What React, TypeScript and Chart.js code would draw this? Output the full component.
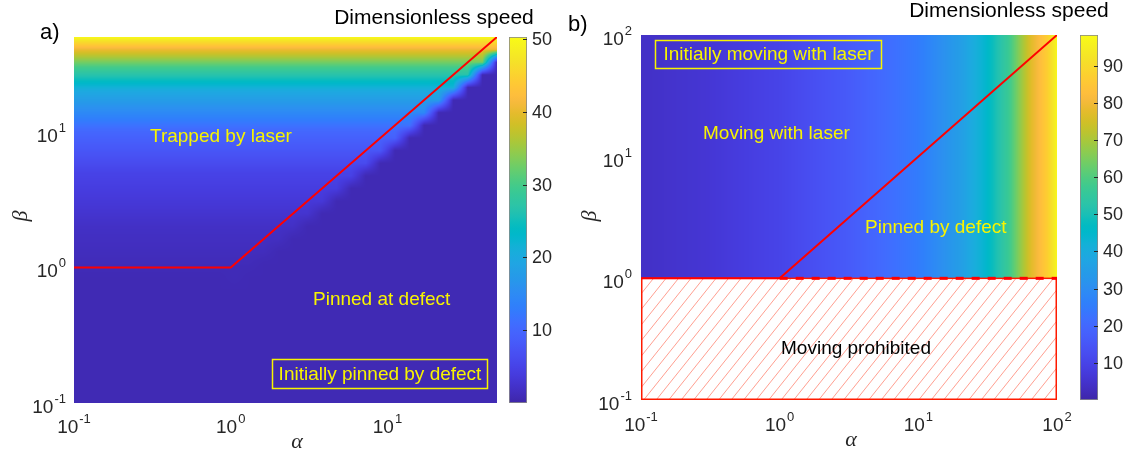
import React, { useEffect, useRef } from 'react';
import { Chart, registerables } from 'chart.js';
Chart.register(...registerables);

// ---------------- data: panel a ----------------
const alphaRangeA = [0.1, 50];
const betaRangeA = [0.1, 50];
const betaProfileA = [0.1, 1, 2, 5, 10, 20, 30, 40, 50];
const speedProfileA = [0.8, 1, 2, 5, 10, 20, 30, 40, 50];
const pinnedSpeedA = [0.8];
const gridNodesA = 30;
const trappedMarginA = [1.25];
const boundaryAlphaA = [0.1, 1, 50];
const boundaryBetaA = [1, 1, 50];
const axisTicksA = [0.1, 1, 10];
const axisTickExpA = ['-1', '0', '1'];
const colorbarTicksA = [10, 20, 30, 40, 50];
const colorbarRangeA = [0, 50.3];

// ---------------- data: panel b ----------------
const alphaRangeB = [0.1, 100];
const betaRangeB = [0.1, 100];
const alphaProfileB = [0.1, 0.3, 1, 3, 10, 20, 30, 45, 65, 85, 100];
const speedProfileB = [4, 6, 10, 16, 25, 35, 44, 57, 77, 87, 97];
const boundaryAlphaB = [0.1, 1, 100];
const boundaryBetaB = [1, 1, 100];
const dashedAlphaB = [1, 100];
const dashedBetaB = [1, 1];
const prohibitedAlphaB = [0.1, 100];
const prohibitedBetaB = [0.1, 1];
const axisTicksB = [0.1, 1, 10, 100];
const axisTickExpB = ['-1', '0', '1', '2'];
const colorbarTicksB = [10, 20, 30, 40, 50, 60, 70, 80, 90];
const colorbarRangeB = [0, 98.3];

// ---------------- colormap (parula) ----------------
const PARULA: number[][] = [
  [0.2422, 0.1504, 0.6603], [0.2504, 0.165, 0.7076], [0.2578, 0.1818, 0.7511], [0.2647, 0.1978, 0.7952],
  [0.2706, 0.2147, 0.8364], [0.2751, 0.2342, 0.871], [0.2783, 0.2559, 0.8991], [0.2803, 0.2782, 0.9221],
  [0.2813, 0.3006, 0.9414], [0.281, 0.3228, 0.9579], [0.2795, 0.3447, 0.9717], [0.276, 0.3667, 0.9829],
  [0.2699, 0.3892, 0.9906], [0.2602, 0.4123, 0.9952], [0.244, 0.4358, 0.9988], [0.2206, 0.4603, 0.9973],
  [0.1963, 0.4847, 0.9892], [0.1834, 0.5074, 0.9798], [0.1786, 0.5289, 0.9682], [0.1764, 0.5499, 0.952],
  [0.1687, 0.5703, 0.9359], [0.154, 0.5902, 0.9218], [0.146, 0.6091, 0.9079], [0.138, 0.6276, 0.8973],
  [0.1248, 0.6459, 0.8883], [0.1113, 0.6635, 0.8763], [0.0952, 0.6798, 0.8598], [0.0689, 0.6948, 0.8394],
  [0.0297, 0.7082, 0.8163], [0.0036, 0.7199, 0.7917], [0.0067, 0.73, 0.766], [0.0433, 0.7394, 0.7394],
  [0.0964, 0.75, 0.712], [0.1408, 0.7584, 0.6842], [0.1717, 0.767, 0.6554], [0.1938, 0.7758, 0.6251],
  [0.2161, 0.7843, 0.5923], [0.247, 0.7918, 0.5567], [0.2906, 0.7973, 0.5188], [0.3406, 0.8008, 0.4789],
  [0.3909, 0.8029, 0.4354], [0.4456, 0.8024, 0.3909], [0.5044, 0.7993, 0.348], [0.5616, 0.7942, 0.3045],
  [0.6174, 0.7876, 0.2612], [0.672, 0.7793, 0.2227], [0.7242, 0.7698, 0.191], [0.7738, 0.7598, 0.1646],
  [0.8203, 0.7498, 0.1535], [0.8634, 0.7406, 0.1596], [0.9035, 0.733, 0.1774], [0.9393, 0.7288, 0.21],
  [0.9728, 0.7298, 0.2394], [0.9956, 0.7434, 0.2371], [0.997, 0.7659, 0.2199], [0.9952, 0.7893, 0.2028],
  [0.9892, 0.8136, 0.1885], [0.9786, 0.8386, 0.1766], [0.9676, 0.8639, 0.1643], [0.961, 0.889, 0.1537],
  [0.9597, 0.9135, 0.1423], [0.9628, 0.9373, 0.1265], [0.9691, 0.9606, 0.1064], [0.9769, 0.9839, 0.0805],
];

function parula(t: number): number[] {
  const tt = Math.min(1, Math.max(0, t));
  const f = tt * (PARULA.length - 1);
  const i = Math.min(PARULA.length - 2, Math.floor(f));
  const u = f - i;
  const a = PARULA[i], b = PARULA[i + 1];
  return [0, 1, 2].map((k) => Math.round(255 * (a[k] + (b[k] - a[k]) * u)));
}

function interpLog(xs: number[], ys: number[], v: number): number {
  const lv = Math.log10(v);
  if (lv <= Math.log10(xs[0])) return ys[0];
  for (let i = 0; i < xs.length - 1; i++) {
    const l0 = Math.log10(xs[i]), l1 = Math.log10(xs[i + 1]);
    if (lv <= l1) return ys[i] + ((ys[i + 1] - ys[i]) * (lv - l0)) / (l1 - l0);
  }
  return ys[ys.length - 1];
}

// field of panel a: trapped region on a coarse simulation grid, bilinear shading
function fieldA(a: number, b: number): number | null {
  const N = gridNodesA;
  const la0 = Math.log10(alphaRangeA[0]), la1 = Math.log10(alphaRangeA[1]);
  const lb0 = Math.log10(betaRangeA[0]), lb1 = Math.log10(betaRangeA[1]);
  const node = (l0: number, l1: number, k: number) => Math.pow(10, l0 + ((l1 - l0) * k) / (N - 1));
  const trapped = (i: number, j: number) => {
    const an = node(la0, la1, i), bn = node(lb0, lb1, j);
    if (an <= 1) return bn >= 0.999 ? 1 : 0;
    return bn * trappedMarginA[0] >= an ? 1 : 0;
  };
  const u = Math.min(N - 1 - 1e-9, Math.max(0, ((Math.log10(a) - la0) / (la1 - la0)) * (N - 1)));
  const v = Math.min(N - 1 - 1e-9, Math.max(0, ((Math.log10(b) - lb0) / (lb1 - lb0)) * (N - 1)));
  const i = Math.floor(u), j = Math.floor(v);
  const fu = u - i, fv = v - j;
  const w =
    trapped(i, j) * (1 - fu) * (1 - fv) +
    trapped(i + 1, j) * fu * (1 - fv) +
    trapped(i, j + 1) * (1 - fu) * fv +
    trapped(i + 1, j + 1) * fu * fv;
  return w * interpLog(betaProfileA, speedProfileA, b) + (1 - w) * pinnedSpeedA[0];
}

function fieldB(a: number, b: number): number | null {
  if (b < prohibitedBetaB[1]) return null;
  return interpLog(alphaProfileB, speedProfileB, a);
}

const SANS = '"Liberation Sans", Arial, Helvetica, sans-serif';
const SERIF = '"Liberation Serif", "DejaVu Serif", serif';
const YELLOW = '#f8f400';

function drawPow10(ctx: CanvasRenderingContext2D, exp: string, x: number, y: number, align: string) {
  ctx.save();
  ctx.fillStyle = '#262626';
  ctx.font = `19px ${SANS}`;
  const w1 = ctx.measureText('10').width;
  ctx.font = `13px ${SANS}`;
  const w2 = ctx.measureText(exp).width;
  const tot = w1 + w2 + 1;
  const x0 = align === 'right' ? x - tot : align === 'center' ? x - tot / 2 : x;
  ctx.textAlign = 'left';
  ctx.textBaseline = 'alphabetic';
  ctx.font = `19px ${SANS}`;
  ctx.fillText('10', x0, y + 7);
  ctx.font = `13px ${SANS}`;
  ctx.fillText(exp, x0 + w1 + 1, y - 3);
  ctx.restore();
}

function text(ctx: CanvasRenderingContext2D, s: string, x: number, y: number, font: string, color: string, align: CanvasTextAlign = 'left') {
  ctx.save();
  ctx.font = font;
  ctx.fillStyle = color;
  ctx.textAlign = align;
  ctx.textBaseline = 'middle';
  ctx.fillText(s, x, y);
  ctx.restore();
}

interface PanelSpec {
  offX: number;
  field: (a: number, b: number) => number | null;
  cbRange: number[];
  cbTicks: number[];
  cbX: number[];
  axisTicks: number[];
  axisExp: string[];
  xTickY: number;
  yTickX: number;
  decorate: (ctx: CanvasRenderingContext2D, chart: any, ox: number) => void;
  underlay?: (ctx: CanvasRenderingContext2D, chart: any, ox: number) => void;
}

function makePlugins(spec: PanelSpec) {
  return [
    {
      id: 'heatmap',
      beforeDatasetsDraw(chart: any) {
        const { ctx, chartArea } = chart;
        const { left, top, right, bottom } = chartArea;
        const xs = chart.scales.x, ys = chart.scales.y;
        const w = Math.round(right - left), h = Math.round(bottom - top);
        const off = document.createElement('canvas');
        off.width = w;
        off.height = h;
        const octx = off.getContext('2d') as CanvasRenderingContext2D;
        const img = octx.createImageData(w, h);
        const colA: number[] = [];
        for (let px = 0; px < w; px++) colA.push(xs.getValueForPixel(left + px + 0.5));
        const [c0, c1] = spec.cbRange;
        for (let py = 0; py < h; py++) {
          const b = ys.getValueForPixel(top + py + 0.5);
          for (let px = 0; px < w; px++) {
            const v = spec.field(colA[px], b);
            if (v === null) continue;
            const c = parula((v - c0) / (c1 - c0));
            const k = (py * w + px) * 4;
            img.data[k] = c[0];
            img.data[k + 1] = c[1];
            img.data[k + 2] = c[2];
            img.data[k + 3] = 255;
          }
        }
        octx.putImageData(img, 0, 0);
        ctx.drawImage(off, left, top);
        if (spec.underlay) spec.underlay(ctx, chart, spec.offX);
      },
    },
    {
      id: 'decor',
      afterDraw(chart: any) {
        const { ctx } = chart;
        const ox = spec.offX;
        spec.axisTicks.forEach((t, i) => {
          drawPow10(ctx, spec.axisExp[i], chart.scales.x.getPixelForValue(t), spec.xTickY, 'center');
        });
        const yTicks = spec.axisTicks.slice();
        yTicks.forEach((t, i) => {
          drawPow10(ctx, spec.axisExp[i], spec.yTickX - ox, chart.scales.y.getPixelForValue(t) + 3, 'right');
        });
        // colorbar
        const cb = chart.scales.cb;
        const x0 = spec.cbX[0] - ox, x1 = spec.cbX[1] - ox;
        const yTop = cb.getPixelForValue(spec.cbRange[1]);
        const yBot = cb.getPixelForValue(spec.cbRange[0]);
        const g = ctx.createLinearGradient(0, yBot, 0, yTop);
        PARULA.forEach((c, i) => {
          g.addColorStop(i / (PARULA.length - 1), `rgb(${Math.round(c[0] * 255)},${Math.round(c[1] * 255)},${Math.round(c[2] * 255)})`);
        });
        ctx.save();
        ctx.fillStyle = g;
        ctx.fillRect(x0, yTop, x1 - x0, yBot - yTop);
        ctx.strokeStyle = '#8a8a8a';
        ctx.lineWidth = 0.8;
        ctx.strokeRect(x0 + 0.4, yTop + 0.4, x1 - x0 - 0.8, yBot - yTop - 0.8);
        ctx.strokeStyle = '#262626';
        ctx.lineWidth = 1;
        spec.cbTicks.forEach((t) => {
          const y = Math.round(cb.getPixelForValue(t)) + 0.5;
          ctx.beginPath();
          ctx.moveTo(x1 - 4, y);
          ctx.lineTo(x1, y);
          ctx.stroke();
          text(ctx, String(t), x1 + 5, y + 1, `18px ${SANS}`, '#262626', 'left');
        });
        ctx.restore();
        spec.decorate(ctx, chart, ox);
      },
    },
  ];
}

function makeConfig(opts: {
  xr: number[];
  yr: number[];
  cbRange: number[];
  padding: any;
  datasets: any[];
  plugins: any[];
}) {
  return {
    type: 'scatter' as const,
    data: { datasets: opts.datasets },
    options: {
      animation: false as const,
      responsive: false,
      devicePixelRatio: 1,
      layout: { padding: opts.padding },
      plugins: { legend: { display: false }, tooltip: { enabled: false } },
      scales: {
        x: { type: 'logarithmic' as const, min: opts.xr[0], max: opts.xr[1], display: false },
        y: { type: 'logarithmic' as const, min: opts.yr[0], max: opts.yr[1], display: false },
        cb: { type: 'linear' as const, axis: 'y' as const, position: 'right' as const, min: opts.cbRange[0], max: opts.cbRange[1], display: false },
      },
    },
    plugins: opts.plugins,
  };
}

function pts(xs: number[], ys: number[]) {
  return xs.map((x, i) => ({ x, y: ys[i] }));
}

export default function App() {
  const refA = useRef<HTMLCanvasElement>(null);
  const refB = useRef<HTMLCanvasElement>(null);

  useEffect(() => {
    const specA: PanelSpec = {
      offX: 0,
      field: fieldA,
      cbRange: colorbarRangeA,
      cbTicks: colorbarTicksA,
      cbX: [509, 527],
      axisTicks: axisTicksA,
      axisExp: axisTickExpA,
      xTickY: 426,
      yTickX: 66,
      decorate: (ctx, chart, ox) => {
        text(ctx, 'a)', 40 - ox, 33, `22px ${SANS}`, '#000', 'left');
        text(ctx, 'Dimensionless speed', 434 - ox, 18, `21px ${SANS}`, '#000', 'center');
        text(ctx, 'Trapped by laser', 150 - ox, 137, `19px ${SANS}`, YELLOW, 'left');
        text(ctx, 'Pinned at defect', 313 - ox, 300, `19px ${SANS}`, YELLOW, 'left');
        ctx.save();
        ctx.strokeStyle = YELLOW;
        ctx.lineWidth = 1.5;
        ctx.strokeRect(272.5 - ox, 359.5, 215, 29);
        ctx.restore();
        text(ctx, 'Initially pinned by defect', 380 - ox, 374.5, `19px ${SANS}`, YELLOW, 'center');
        text(ctx, 'α', 297 - ox, 442, `italic 22px ${SERIF}`, '#262626', 'center');
        ctx.save();
        ctx.translate(21 - ox, 216);
        ctx.rotate(-Math.PI / 2);
        text(ctx, 'β', 0, 0, `italic 22px ${SERIF}`, '#262626', 'center');
        ctx.restore();
      },
    };

    const specB: PanelSpec = {
      offX: 564,
      field: fieldB,
      cbRange: colorbarRangeB,
      cbTicks: colorbarTicksB,
      cbX: [1080, 1098],
      axisTicks: axisTicksB,
      axisExp: axisTickExpB,
      xTickY: 424,
      yTickX: 632,
      underlay: (ctx, chart) => {
        const xs = chart.scales.x, ys = chart.scales.y;
        const x0 = xs.getPixelForValue(prohibitedAlphaB[0]);
        const x1 = xs.getPixelForValue(prohibitedAlphaB[1]);
        const y0 = ys.getPixelForValue(prohibitedBetaB[1]);
        const y1 = ys.getPixelForValue(prohibitedBetaB[0]);
        ctx.save();
        ctx.beginPath();
        ctx.rect(x0, y0, x1 - x0, y1 - y0);
        ctx.clip();
        ctx.strokeStyle = 'rgba(255,110,90,0.75)';
        ctx.lineWidth = 0.9;
        const h = y1 - y0;
        const slope = 0.8;
        for (let sx = x0 - h * slope; sx < x1 + 12; sx += 12.5) {
          ctx.beginPath();
          ctx.moveTo(sx, y1);
          ctx.lineTo(sx + h * slope, y0);
          ctx.stroke();
        }
        ctx.restore();
        ctx.save();
        ctx.strokeStyle = '#ff1a00';
        ctx.lineWidth = 1.5;
        ctx.strokeRect(x0 + 0.75, y0, x1 - x0 - 1.5, y1 - y0 - 0.75);
        ctx.restore();
      },
      decorate: (ctx, chart, ox) => {
        text(ctx, 'b)', 568 - ox, 25, `22px ${SANS}`, '#000', 'left');
        text(ctx, 'Dimensionless speed', 1009 - ox, 11, `21px ${SANS}`, '#000', 'center');
        ctx.save();
        ctx.strokeStyle = YELLOW;
        ctx.lineWidth = 1.5;
        ctx.strokeRect(655.5 - ox, 40.5, 226, 28);
        ctx.restore();
        text(ctx, 'Initially moving with laser', 768.5 - ox, 54.5, `19px ${SANS}`, YELLOW, 'center');
        text(ctx, 'Moving with laser', 703 - ox, 134, `19px ${SANS}`, YELLOW, 'left');
        text(ctx, 'Pinned by defect', 865 - ox, 228, `19px ${SANS}`, YELLOW, 'left');
        text(ctx, 'Moving prohibited', 856 - ox, 349, `19px ${SANS}`, '#000', 'center');
        text(ctx, 'α', 851 - ox, 440, `italic 22px ${SERIF}`, '#262626', 'center');
        ctx.save();
        ctx.translate(590 - ox, 216);
        ctx.rotate(-Math.PI / 2);
        text(ctx, 'β', 0, 0, `italic 22px ${SERIF}`, '#262626', 'center');
        ctx.restore();
      },
    };

    const chartA = new Chart(
      refA.current as HTMLCanvasElement,
      makeConfig({
        xr: alphaRangeA,
        yr: betaRangeA,
        cbRange: colorbarRangeA,
        padding: { left: 74, top: 37, right: 564 - 497, bottom: 450 - 403 },
        datasets: [
          {
            data: pts(boundaryAlphaA, boundaryBetaA),
            showLine: true,
            borderColor: '#ff0000',
            borderWidth: 2,
            pointRadius: 0,
          },
        ],
        plugins: makePlugins(specA),
      }) as any
    );

    const chartB = new Chart(
      refB.current as HTMLCanvasElement,
      makeConfig({
        xr: alphaRangeB,
        yr: betaRangeB,
        cbRange: colorbarRangeB,
        padding: { left: 641 - 564, top: 35, right: 564 - (1057 - 564), bottom: 450 - 400 },
        datasets: [
          {
            data: pts(dashedAlphaB, dashedBetaB),
            showLine: true,
            borderColor: '#ff0000',
            borderWidth: 3,
            borderDash: [8, 8],
            pointRadius: 0,
          },
          {
            data: pts(boundaryAlphaB, boundaryBetaB),
            showLine: true,
            borderColor: '#ff0000',
            borderWidth: 2,
            pointRadius: 0,
          },
        ],
        plugins: makePlugins(specB),
      }) as any
    );

    return () => {
      chartA.destroy();
      chartB.destroy();
    };
  }, []);

  return (
    <div style={{ position: 'fixed', left: 0, top: 0, width: 1128, height: 450, background: '#fff', overflow: 'hidden' }}>
      <canvas ref={refA} width={564} height={450} style={{ position: 'absolute', left: 0, top: 0, width: 564, height: 450 }} />
      <canvas ref={refB} width={564} height={450} style={{ position: 'absolute', left: 564, top: 0, width: 564, height: 450 }} />
    </div>
  );
}
